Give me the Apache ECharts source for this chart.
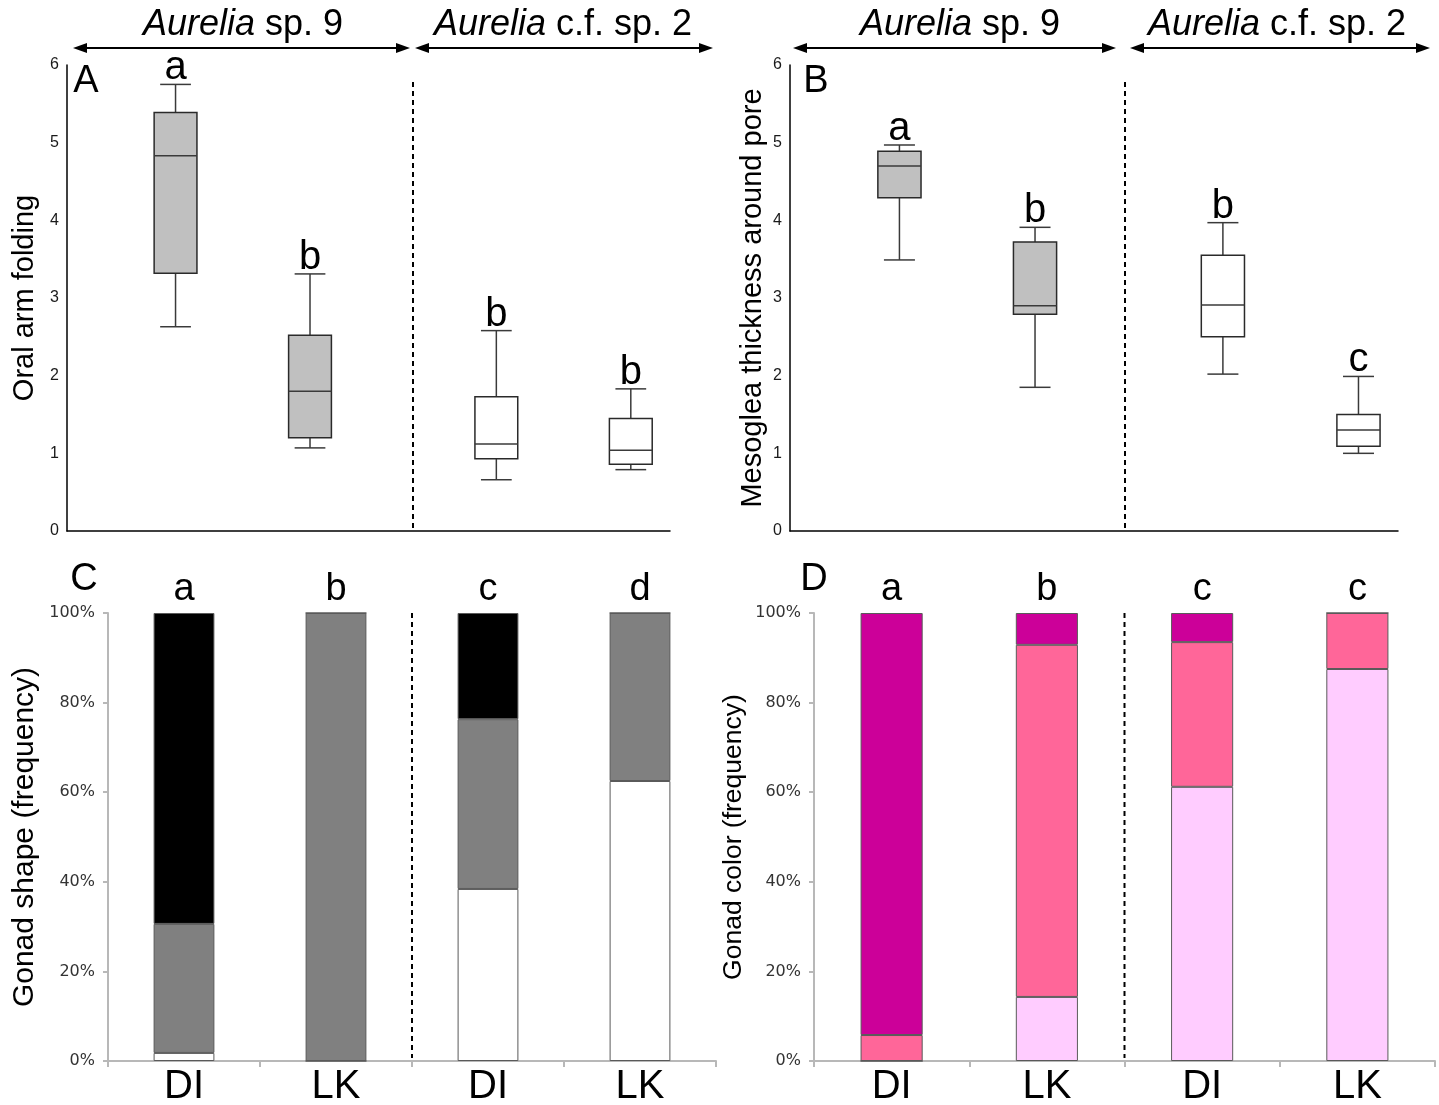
<!DOCTYPE html>
<html>
<head>
<meta charset="utf-8">
<script src="https://cdn.jsdelivr.net/npm/echarts@6/dist/echarts.min.js"></script>
<style>
  html, body { margin: 0; padding: 0; background: #fff; }
  #main { width: 1439px; height: 1105px; }
</style>
</head>
<body>
<div id="main"></div>
<script>
// box positions on the hidden x value axis (0..10) of panels A and B
const boxPos = [1.8, 4.03, 7.12, 9.35];
const boxFills = ['#c0c0c0', '#c0c0c0', '#ffffff', '#ffffff'];

// A: oral arm folding
const oralMin = [2.63, 1.07, 0.66, 0.79];
const oralQ1 = [3.32, 1.20, 0.93, 0.86];
const oralMed = [4.83, 1.80, 1.12, 1.04];
const oralQ3 = [5.39, 2.52, 1.73, 1.45];
const oralMax = [5.75, 3.31, 2.58, 1.83];
const oralLetters = ['a', 'b', 'b', 'b'];
const dividerA = 5.74;

// B: mesoglea thickness around pore
const mesoMin = [3.49, 1.85, 2.02, 1.00];
const mesoQ1 = [4.29, 2.79, 2.50, 1.09];
const mesoMed = [4.70, 2.90, 2.91, 1.30];
const mesoQ3 = [4.89, 3.72, 3.55, 1.50];
const mesoMax = [4.97, 3.91, 3.97, 1.99];
const mesoLetters = ['a', 'b', 'b', 'c'];
const dividerB = 5.51;

// C / D: frequencies (%)
const sites = ['DI', 'LK', 'DI', 'LK'];
const shapeWhite = [1.8, 0, 38.4, 62.5];
const shapeGrey = [28.8, 100, 37.9, 37.5];
const shapeBlack = [69.4, 0, 23.7, 0];
const shapeLetters = ['a', 'b', 'c', 'd'];

const colorLight = [0, 14.3, 61.2, 87.5];
const colorPink = [5.8, 78.6, 32.3, 12.5];
const colorMagenta = [94.2, 7.1, 6.5, 0];
const colorLetters = ['a', 'b', 'c', 'c'];

const FONT = 'Liberation Sans, Arial, sans-serif';

// layout of the four panels
const gA = {left: 67, top: 65, width: 603, height: 466, outerBoundsMode: 'none'};
const gB = {left: 790, top: 65, width: 608, height: 466, outerBoundsMode: 'none'};
const gC = {left: 108, top: 613, width: 608, height: 448, outerBoundsMode: 'none'};
const gD = {left: 814, top: 613, width: 621, height: 448, outerBoundsMode: 'none'};

function boxData(mins, q1s, meds, q3s, maxs) {
  return boxPos.map((p, i) => [p, mins[i], q1s[i], meds[i], q3s[i], maxs[i]]);
}

function boxRenderer(letters) {
  return function (params, api) {
    const i = params.dataIndex;
    const x = api.value(0);
    const pMin = api.coord([x, api.value(1)]);
    const pQ1 = api.coord([x, api.value(2)]);
    const pMed = api.coord([x, api.value(3)]);
    const pQ3 = api.coord([x, api.value(4)]);
    const pMax = api.coord([x, api.value(5)]);
    const half = api.size([0.71, 0])[0] / 2;
    const cap = api.size([0.51, 0])[0] / 2;
    const cx = pMin[0];
    const ln = {stroke: '#3a3a3a', lineWidth: 1.5};
    return {
      type: 'group',
      children: [
        {type: 'line', shape: {x1: cx, y1: pMax[1], x2: cx, y2: pQ3[1]}, style: ln},
        {type: 'line', shape: {x1: cx, y1: pQ1[1], x2: cx, y2: pMin[1]}, style: ln},
        {type: 'line', shape: {x1: cx - cap, y1: pMax[1], x2: cx + cap, y2: pMax[1]}, style: ln},
        {type: 'line', shape: {x1: cx - cap, y1: pMin[1], x2: cx + cap, y2: pMin[1]}, style: ln},
        {type: 'rect', shape: {x: cx - half, y: pQ3[1], width: half * 2, height: pQ1[1] - pQ3[1]},
          style: {fill: boxFills[i], stroke: '#2a2a2a', lineWidth: 1.5}},
        {type: 'line', shape: {x1: cx - half, y1: pMed[1], x2: cx + half, y2: pMed[1]}, style: ln},
        {type: 'text', x: cx, y: pMax[1] + 4,
          style: {text: letters[i], fontSize: 40, fontFamily: FONT, fill: '#000',
            align: 'center', verticalAlign: 'bottom'}}
      ]
    };
  };
}

function dividerLine(value, ymin, ymax) {
  return {
    silent: true,
    symbol: ['none', 'none'],
    label: {show: false},
    lineStyle: {type: [5, 4], color: '#000', width: 2},
    data: [[{coord: [value, ymin]}, {coord: [value, ymax]}]]
  };
}

function arrow(x1, x2, y) {
  const h = 14, w = 5;
  return [
    {type: 'line', shape: {x1: x1 + 4, y1: y, x2: x2 - 4, y2: y}, style: {stroke: '#000', lineWidth: 2}},
    {type: 'polygon', shape: {points: [[x1, y], [x1 + h, y - w], [x1 + h, y + w]]}, style: {fill: '#000'}},
    {type: 'polygon', shape: {points: [[x2, y], [x2 - h, y - w], [x2 - h, y + w]]}, style: {fill: '#000'}}
  ];
}

function header(text, x, y) {
  return {
    type: 'text', x: x, y: y,
    style: {
      text: text, fontSize: 36, fontFamily: FONT, fill: '#000',
      align: 'center', verticalAlign: 'middle',
      rich: {i: {fontStyle: 'italic', fontSize: 36, fontFamily: FONT}}
    }
  };
}

function panelLetter(t, x, y) {
  return {type: 'text', x: x, y: y,
    style: {text: t, fontSize: 38, fontFamily: FONT, fill: '#000', align: 'center', verticalAlign: 'middle'}};
}

function vDash(g) {
  const x = g.left + g.width / 2;
  return {type: 'line', shape: {x1: x, y1: g.top, x2: x, y2: g.top + g.height - 3},
    style: {stroke: '#000', lineWidth: 2, lineDash: [5, 4]}};
}

function boxXAxis(grid) {
  return {
    gridIndex: grid, type: 'value', min: 0, max: 10,
    axisLine: {show: true, lineStyle: {color: '#000', width: 1.5}},
    axisTick: {show: false}, axisLabel: {show: false}, splitLine: {show: false}
  };
}

function boxYAxis(grid, name, gap, nameSize) {
  return {
    gridIndex: grid, type: 'value', min: 0, max: 6, interval: 1,
    name: name, nameLocation: 'middle', nameGap: gap,
    nameTextStyle: {fontSize: nameSize, fontFamily: FONT, color: '#000'},
    axisLine: {show: true, lineStyle: {color: '#000', width: 1.5}},
    axisTick: {show: false}, splitLine: {show: false},
    axisLabel: {fontSize: 16, fontFamily: FONT, color: '#1a1a1a', margin: 8}
  };
}

function catXAxis(grid) {
  return {
    gridIndex: grid, type: 'category', data: sites,
    axisLine: {show: true, lineStyle: {color: '#b8b8b8', width: 2}},
    axisTick: {show: true, length: 6, lineStyle: {color: '#b8b8b8', width: 2}},
    axisLabel: {fontSize: 40, fontFamily: FONT, color: '#000', margin: 6},
    splitLine: {show: false}
  };
}

function letterAxis(grid, letters) {
  return {
    gridIndex: grid, type: 'category', position: 'top', data: letters,
    axisLine: {show: false}, axisTick: {show: false}, splitLine: {show: false},
    axisLabel: {fontSize: 38, fontFamily: FONT, color: '#000', margin: 4}
  };
}

function pctYAxis(grid, name, gap, nameSize) {
  return {
    gridIndex: grid, type: 'value', min: 0, max: 100, interval: 20,
    name: name, nameLocation: 'middle', nameGap: gap,
    nameTextStyle: {fontSize: nameSize, fontFamily: FONT, color: '#000'},
    axisLine: {show: true, lineStyle: {color: '#b8b8b8', width: 2}},
    axisTick: {show: true, length: 5, lineStyle: {color: '#b8b8b8', width: 2}},
    splitLine: {show: false},
    axisLabel: {formatter: '{value}%', fontSize: 16, fontFamily: 'DejaVu Sans', color: '#333', margin: 13}
  };
}

function stackBar(name, data, color, xi, yi, stack) {
  return {
    name: name, type: 'bar', stack: stack, xAxisIndex: xi, yAxisIndex: yi,
    barWidth: '40%', data: data,
    itemStyle: {color: color, borderColor: '#5a5a5a', borderWidth: 1}
  };
}

let myChart = echarts.init(document.getElementById('main'));
let option = {
  backgroundColor: '#fff',
  animation: false,
  grid: [gA, gB, gC, gD],
  xAxis: [
    boxXAxis(0), boxXAxis(1),
    catXAxis(2), catXAxis(3),
    letterAxis(2, shapeLetters), letterAxis(3, colorLetters)
  ],
  yAxis: [
    boxYAxis(0, 'Oral arm folding', 28, 29),
    boxYAxis(1, 'Mesoglea thickness around pore', 23, 29),
    pctYAxis(2, 'Gonad shape (frequency)', 68, 30),
    pctYAxis(3, 'Gonad color (frequency)', 67, 26.5)
  ],
  series: [
    {
      type: 'custom', xAxisIndex: 0, yAxisIndex: 0,
      data: boxData(oralMin, oralQ1, oralMed, oralQ3, oralMax),
      encode: {x: 0, y: [1, 2, 3, 4, 5]},
      renderItem: boxRenderer(oralLetters),
      markLine: dividerLine(dividerA, 0.04, 5.83)
    },
    {
      type: 'custom', xAxisIndex: 1, yAxisIndex: 1,
      data: boxData(mesoMin, mesoQ1, mesoMed, mesoQ3, mesoMax),
      encode: {x: 0, y: [1, 2, 3, 4, 5]},
      renderItem: boxRenderer(mesoLetters),
      markLine: dividerLine(dividerB, 0.04, 5.83)
    },
    stackBar('white', shapeWhite, '#ffffff', 2, 2, 'shape'),
    stackBar('grey', shapeGrey, '#808080', 2, 2, 'shape'),
    stackBar('black', shapeBlack, '#000000', 2, 2, 'shape'),
    stackBar('light', colorLight, '#ffccff', 3, 3, 'color'),
    stackBar('pink', colorPink, '#ff6699', 3, 3, 'color'),
    stackBar('magenta', colorMagenta, '#cc0099', 3, 3, 'color')
  ],
  graphic: [
    header('{i|Aurelia} sp. 9', 243, 25),
    header('{i|Aurelia} c.f. sp. 2', 563, 25),
    header('{i|Aurelia} sp. 9', 960, 25),
    header('{i|Aurelia} c.f. sp. 2', 1277, 25),
    ...arrow(73, 410, 48),
    ...arrow(415, 713, 48),
    ...arrow(793, 1116, 48),
    ...arrow(1130, 1430, 48),
    panelLetter('A', 86, 82),
    panelLetter('B', 816, 82),
    panelLetter('C', 84, 580),
    panelLetter('D', 814, 580),
    vDash(gC),
    vDash(gD)
  ]
};
myChart.setOption(option);
</script>
</body>
</html>
